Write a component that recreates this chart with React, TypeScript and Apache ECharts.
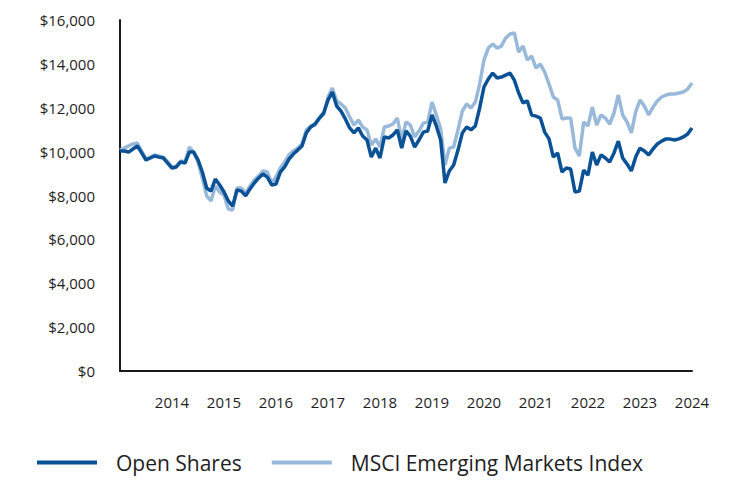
import React, { useEffect, useRef } from "react";
import * as echarts from "echarts";

const startYear = 2013;
const monthCount = 133;
const months: string[] = [];
for (let i = 0; i < monthCount; i++) {
  const y = startYear + Math.floor(i / 12);
  const m = (i % 12) + 1;
  months.push(`${y}-${m < 10 ? "0" + m : m}`);
}

const openShares = [
  10030, 10030, 9980, 10120, 10260, 9940, 9620, 9710, 9800, 9750, 9710, 9480,
  9250, 9300, 9530, 9480, 9980, 9980, 9620, 9070, 8340, 8200, 8750, 8480,
  8160, 7750, 7520, 8250, 8200, 7980, 8300, 8570, 8800, 8980, 8840, 8480,
  8520, 9070, 9300, 9660, 9890, 10070, 10260, 10850, 11120, 11260, 11530, 11760,
  12350, 12720, 12080, 11850, 11490, 11080, 10850, 11080, 10710, 10530, 9750, 10160,
  9710, 10670, 10620, 10760, 10990, 10160, 10940, 10710, 10210, 10530, 10890, 10940,
  11670, 11170, 10530, 8570, 9120, 9390, 10070, 10850, 11120, 10990, 11170, 11990,
  12950, 13310, 13580, 13360, 13400, 13490, 13580, 13260, 12670, 12220, 12310, 11670,
  11620, 11530, 10890, 10580, 9750, 9940, 9070, 9250, 9210, 8160, 8200, 9160,
  8930, 9980, 9390, 9850, 9710, 9530, 9940, 10480, 9710, 9440, 9120, 9750,
  10160, 10030, 9850, 10120, 10350, 10480, 10580, 10570, 10530, 10580, 10670, 10800,
  11080,
];

const msciEM = [
  10070, 10160, 10260, 10350, 10390, 10030, 9660, 9750, 9850, 9800, 9750, 9530,
  9300, 9340, 9570, 9530, 10210, 9980, 9530, 8800, 7980, 7750, 8430, 8160,
  8020, 7380, 7340, 8340, 8340, 8110, 8430, 8710, 8890, 9120, 9070, 8570,
  8840, 9250, 9530, 9850, 10030, 10160, 10350, 10990, 11170, 11210, 11490, 11710,
  12490, 12900, 12310, 12170, 11990, 11580, 11210, 11440, 11120, 10990, 10300, 10580,
  10210, 11120, 11170, 11260, 11530, 10530, 11350, 11210, 10670, 10940, 11300, 11350,
  12260, 11670, 11030, 9390, 10160, 10210, 10990, 11850, 12170, 11990, 12260, 13080,
  14180, 14720, 14910, 14720, 14810, 15180, 15360, 15410, 14540, 14810, 14180, 14360,
  13810, 13990, 13630, 13080, 12490, 12350, 11490, 11530, 11530, 10160, 9800, 11350,
  11170, 12030, 11210, 11670, 11530, 11260, 11760, 12580, 11670, 11350, 10850, 11810,
  12350, 12080, 11670, 12030, 12310, 12490, 12580, 12630, 12630, 12670, 12720, 12850,
  13130,
];

const yTicks = [0, 2000, 4000, 6000, 8000, 10000, 12000, 14000, 16000];

const darkBlue = "#0b5196";
const lightBlue = "#98b9d9";
const textColor = "#1e1e1e";
const font = "'Open Sans', 'Noto Sans', sans-serif";

export default function App() {
  const ref = useRef<HTMLDivElement>(null);
  useEffect(() => {
    document.body.style.margin = "0";
    if (!ref.current) return;
    const chart = echarts.init(ref.current, undefined, { renderer: "svg" });
    chart.setOption({
      animation: false,
      backgroundColor: "#ffffff",
      grid: { left: 120, right: 40, top: 20, bottom: 109, containLabel: false },
      legend: {
        data: ["Open Shares", "MSCI Emerging Markets Index"],
        left: 37,
        top: 452,
        padding: 0,
        icon: "rect",
        itemWidth: 60,
        itemHeight: 4,
        itemGap: 30,
        textStyle: {
          color: textColor,
          fontSize: 21,
          fontFamily: font,
          padding: [0, 0, 0, 14],
        },
      },
      xAxis: {
        type: "category",
        data: months,
        boundaryGap: false,
        axisLine: { show: true, lineStyle: { color: "#1a1a1a", width: 2 } },
        axisTick: { show: false },
        splitLine: { show: false },
        axisLabel: {
          interval: (index: number) => index > 0 && index % 12 === 0,
          formatter: (v: string) => v.slice(0, 4),
          color: textColor,
          fontSize: 15,
          fontFamily: font,
          margin: 23,
        },
      },
      yAxis: {
        type: "value",
        min: yTicks[0],
        max: yTicks[yTicks.length - 1],
        interval: 2000,
        axisLine: { show: true, lineStyle: { color: "#1a1a1a", width: 2 } },
        axisTick: { show: false },
        splitLine: { show: false },
        axisLabel: {
          formatter: (v: number) => "$" + v.toLocaleString("en-US"),
          color: textColor,
          fontSize: 15,
          fontFamily: font,
          margin: 25,
        },
      },
      series: [
        {
          name: "MSCI Emerging Markets Index",
          type: "line",
          data: msciEM,
          showSymbol: false,
          symbol: "none",
          lineStyle: { color: lightBlue, width: 3.5 },
          itemStyle: { color: lightBlue },
        },
        {
          name: "Open Shares",
          type: "line",
          data: openShares,
          showSymbol: false,
          symbol: "none",
          lineStyle: { color: darkBlue, width: 3.5 },
          itemStyle: { color: darkBlue },
        },
      ],
    });
    return () => chart.dispose();
  }, []);
  return <div ref={ref} style={{ width: 732, height: 480 }} />;
}
